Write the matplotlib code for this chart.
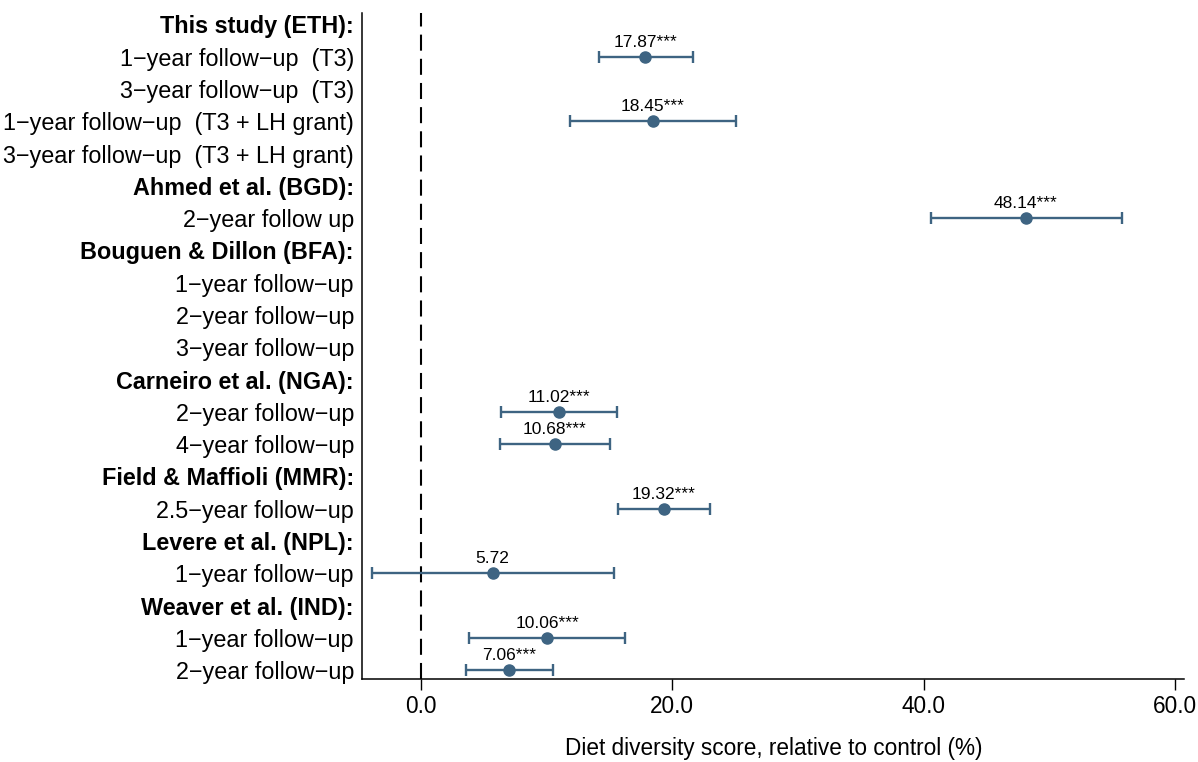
import matplotlib
matplotlib.use("Agg")
import matplotlib.pyplot as plt
import numpy as np

plt.rcParams['font.family'] = ['Liberation Sans', 'DejaVu Sans']

# ---- data ----
row_labels = [
    "This study (ETH):",
    "1\u2212year follow\u2212up  (T3)",
    "3\u2212year follow\u2212up  (T3)",
    "1\u2212year follow\u2212up  (T3 + LH grant)",
    "3\u2212year follow\u2212up  (T3 + LH grant)",
    "Ahmed et al. (BGD):",
    "2\u2212year follow up",
    "Bouguen & Dillon (BFA):",
    "1\u2212year follow\u2212up",
    "2\u2212year follow\u2212up",
    "3\u2212year follow\u2212up",
    "Carneiro et al. (NGA):",
    "2\u2212year follow\u2212up",
    "4\u2212year follow\u2212up",
    "Field & Maffioli (MMR):",
    "2.5\u2212year follow\u2212up",
    "Levere et al. (NPL):",
    "1\u2212year follow\u2212up",
    "Weaver et al. (IND):",
    "1\u2212year follow\u2212up",
    "2\u2212year follow\u2212up",
]
is_header = [True, False, False, False, False, True, False, True, False, False, False,
             True, False, False, True, False, True, False, True, False, False]

est_rows = [1, 3, 6, 12, 13, 15, 17, 19, 20]
estimates = [17.87, 18.45, 48.14, 11.02, 10.68, 19.32, 5.72, 10.06, 7.06]
ci_low = [14.18, 11.84, 40.58, 6.40, 6.32, 15.70, -3.88, 3.85, 3.61]
ci_high = [21.64, 25.10, 55.80, 15.64, 15.08, 23.00, 15.35, 16.28, 10.49]
stars = ["***", "***", "***", "***", "***", "***", "", "***", "***"]

xticks = [0, 20, 40, 60]
xticklabels = ["0.0", "20.0", "40.0", "60.0"]
xlabel = "Diet diversity score, relative to control (%)"

color = "#3e6482"

fig = plt.figure(figsize=(11.98, 7.62), dpi=100)
ax = fig.add_axes([0.3024, 0.1085, 0.6862, 0.8744])

y = np.array(est_rows)
est = np.array(estimates)
lo = np.array(ci_low)
hi = np.array(ci_high)

ax.axvline(0, color="black", lw=1.5, linestyle=(0, (7.7, 3.9)), zorder=1)

ax.errorbar(est, y, xerr=[est - lo, hi - est], fmt="o", color=color,
            ecolor=color, elinewidth=1.7, capsize=4.5, capthick=1.7,
            markersize=8, zorder=3)

for xi, yi, s in zip(est, y, stars):
    ax.annotate(f"{xi:.2f}{s}", (xi, yi), xytext=(0, 7.2), textcoords="offset points",
                ha="center", va="baseline", fontsize=12.5)

ax.set_ylim(len(row_labels) - 1 + 0.28, -0.35)
ax.set_xlim(-4.65, 60.75)
ax.set_yticks(range(len(row_labels)))
ax.set_yticklabels(row_labels, fontsize=16.8)
for lab, h in zip(ax.get_yticklabels(), is_header):
    if h:
        lab.set_fontweight("bold")
ax.tick_params(axis="y", length=0, pad=6)
ax.set_xticks(xticks)
ax.set_xticklabels(xticklabels, fontsize=16.3)
ax.tick_params(axis="x", length=8, width=1, pad=3)
ax.set_xlabel(xlabel, fontsize=16.3, labelpad=14)

for sp in ["top", "right"]:
    ax.spines[sp].set_visible(False)
for sp in ["left", "bottom"]:
    ax.spines[sp].set_linewidth(1.1)

fig.savefig("out.png", dpi=100)
